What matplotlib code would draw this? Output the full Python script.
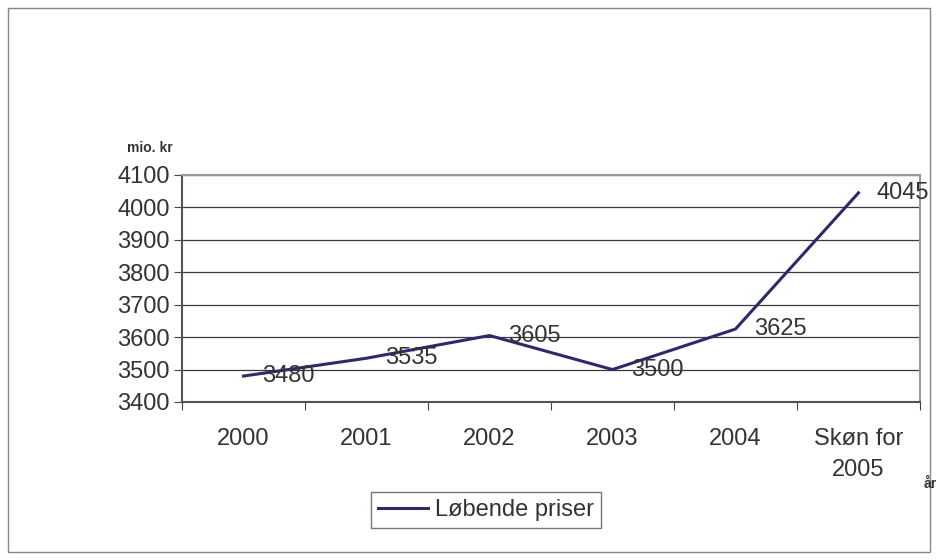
import matplotlib.pyplot as plt
from matplotlib.patches import Rectangle

# data
years = ['2000', '2001', '2002', '2003', '2004', 'Skøn for\n2005']
values = [3480, 3535, 3605, 3500, 3625, 4045]
y_ticks = [3400, 3500, 3600, 3700, 3800, 3900, 4000, 4100]

plt.rcParams['font.family'] = ['Liberation Sans', 'DejaVu Sans']
txt_col = '#333333'
fs = 17

fig = plt.figure(figsize=(9.38, 5.6), dpi=100)
ax = fig.add_axes([182/938, 1 - 402/560, 738/938, 227/560])

x = list(range(len(years)))
line, = ax.plot(x, values, color='#2b2b6b', lw=2.2, label='Løbende priser')
for xi, v in zip(x, values):
    ax.text(xi + 0.15, v, str(v), fontsize=fs, color=txt_col,
            ha='left', va='center')

ax.set_xlim(-0.5, len(years) - 0.5)
ax.set_ylim(3400, 4100)
ax.set_yticks(y_ticks)
ax.set_yticklabels([str(t) for t in y_ticks], fontsize=fs, color=txt_col)
# category boundaries get the tick marks, centres get the labels
ax.set_xticks([i - 0.5 for i in range(len(years) + 1)])
ax.set_xticklabels([])
ax.set_xticks(x, minor=True)
ax.set_xticklabels(years, minor=True, fontsize=fs, color=txt_col, linespacing=1.5)
ax.tick_params(axis='x', which='minor', length=0, pad=19)
ax.tick_params(axis='x', which='major', length=6, color='#444444', direction='out')
ax.tick_params(axis='y', length=6, color='#444444', direction='out', pad=3)
ax.grid(axis='y', color='#3a3a3a', lw=0.9)
ax.set_axisbelow(True)

for s in ['top', 'right']:
    ax.spines[s].set_color('#a09890')
    ax.spines[s].set_linewidth(1.5)
for s in ['left', 'bottom']:
    ax.spines[s].set_color('#5a5050')
    ax.spines[s].set_linewidth(1.5)

fig.text(150/938, 1 - 148/560, 'mio. kr', fontsize=10, fontweight='bold',
         color=txt_col, ha='center', va='center')
fig.text(930/938, 1 - 484/560, 'år', fontsize=10, fontweight='bold',
         color=txt_col, ha='center', va='center')

leg = fig.legend(handles=[line], loc='center', bbox_to_anchor=(486/938, 1 - 510/560),
                 fontsize=fs, frameon=True, fancybox=False, handlelength=2.1,
                 handletextpad=0.3, borderpad=0.3, borderaxespad=0,
                 labelcolor=txt_col)
leg.get_frame().set_edgecolor('#555555')
leg.get_frame().set_linewidth(1)

fig.patches.append(Rectangle((8/938, 8/560), 922/938, 544/560, transform=fig.transFigure,
                             fill=False, edgecolor='#888888', lw=1))

fig.savefig('out.png', dpi=100)
